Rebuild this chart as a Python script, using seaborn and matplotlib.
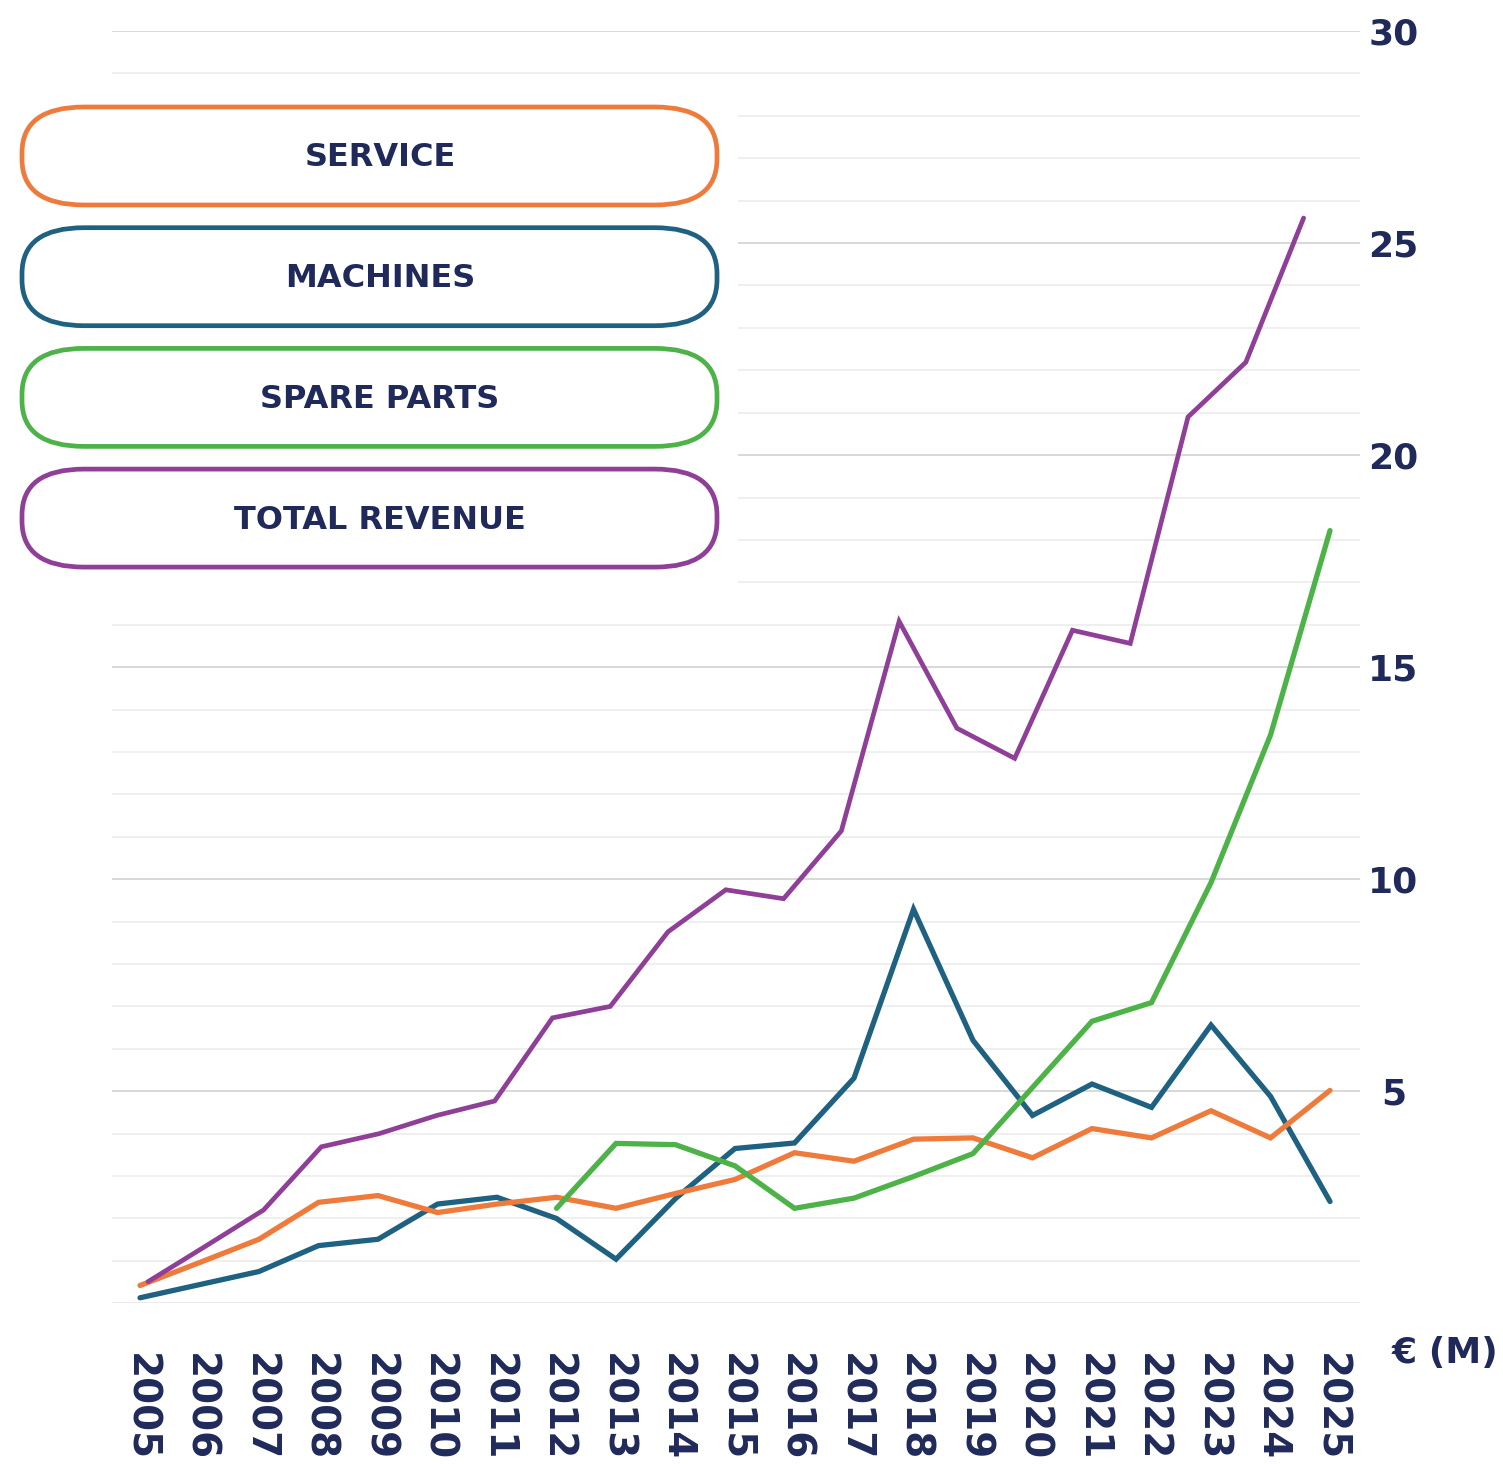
import matplotlib.pyplot as plt
import pandas as pd
import seaborn as sns
from matplotlib.patches import FancyBboxPatch, Rectangle

# values (EUR millions)
years = list(range(2005, 2026))
service = [0.42, 0.96, 1.51, 2.38, 2.54, 2.14, 2.34, 2.50, 2.24, 2.59, 2.92,
           3.55, 3.35, 3.87, 3.90, 3.43, 4.12, 3.90, 4.54, 3.90, 5.02]
machines = [0.13, 0.44, 0.75, 1.36, 1.51, 2.34, 2.50, 2.00, 1.04, 2.47, 3.65,
            3.78, 5.31, 9.29, 6.20, 4.43, 5.17, 4.62, 6.56, 4.88, 2.40]
spare_years = list(range(2012, 2026))
spare_parts = [2.24, 3.77, 3.74, 3.24, 2.24, 2.48, 2.99, 3.53, 5.09, 6.65,
               7.09, 9.92, 13.40, 18.22]
total_revenue = [0.51, 1.35, 2.20, 3.69, 4.00, 4.43, 4.77, 6.73, 7.00, 8.76, 9.75,
                 9.54, 11.14, 16.08, 13.56, 12.85, 15.87, 15.56, 20.90, 22.19, 25.59]

legend_labels = ['SERVICE', 'MACHINES', 'SPARE PARTS', 'TOTAL REVENUE']
y_ticks = [5, 10, 15, 20, 25, 30]

ORANGE = '#EE7B3B'
BLUE = '#1E6180'
GREEN = '#4DB348'
PURPLE = '#8F3F97'
NAVY = '#1F2A5A'
legend_colors = [ORANGE, BLUE, GREEN, PURPLE]

sns.set_theme(style='white')
plt.rcParams['font.family'] = ['DejaVu Sans']

W, H = 1503, 1464
fig = plt.figure(figsize=(W / 100, H / 100), dpi=100)
ax = fig.add_axes([112 / W, 1 - 1303.3 / H, (1360 - 112) / W, (1303.3 - 31) / H])

df_main = pd.DataFrame({'year': years, 'service': service, 'machines': machines})
df_spare = pd.DataFrame({'year': spare_years, 'spare': spare_parts})
df_total = pd.DataFrame({'year': years, 'total': total_revenue})

lw = 3.8
sns.lineplot(data=df_main, x='year', y='machines', ax=ax, color=BLUE,
             linewidth=lw, solid_capstyle='round', solid_joinstyle='miter')
sns.lineplot(data=df_main, x='year', y='service', ax=ax, color=ORANGE,
             linewidth=lw, solid_capstyle='round', solid_joinstyle='miter')
sns.lineplot(data=df_spare, x='year', y='spare', ax=ax, color=GREEN,
             linewidth=lw, solid_capstyle='round', solid_joinstyle='miter')

ax.set_xlim(2004.529, 2025.504)
ax.set_ylim(0, 30)
ax.set_xlabel('')
ax.set_ylabel('')

# total revenue line sits on a slightly compressed x scale in the original
ax2 = ax.twiny()
sns.lineplot(data=df_total, x='year', y='total', ax=ax2, color=PURPLE,
             linewidth=3.4, solid_capstyle='round', solid_joinstyle='miter')
ax2.set_xlim(2004.377, 2025.976)
ax2.set_xticks([])
ax2.set_xlabel('')
ax2.set_ylabel('')
for s in ax2.spines.values():
    s.set_visible(False)

# grid
ax.set_yticks(y_ticks)
ax.set_yticks(range(0, 31), minor=True)
ax.set_axisbelow(True)
ax.grid(which='minor', axis='y', color='#eeeeee', linewidth=1.3)
ax.grid(which='major', axis='y', color='#d6d6d6', linewidth=1.3)
ax.axhline(0, color='#d6d6d6', linewidth=1.3, zorder=0.5)
ax.grid(False, axis='x')
for s in ax.spines.values():
    s.set_visible(False)

# y labels on the right
ax.yaxis.tick_right()
ax.set_yticklabels([str(t) for t in y_ticks], fontsize=26, fontweight='bold',
                   color=NAVY, ha='center')
ax.tick_params(axis='y', which='both', length=0, pad=24)

# year labels
ax.set_xticks(years)
ax.set_xticklabels([str(y) for y in years], rotation=270, fontsize=28,
                   fontweight='bold', color=NAVY)
for lbl in ax.get_xticklabels():
    lbl.set_verticalalignment('center')
    lbl.set_horizontalalignment('center')
ax.tick_params(axis='x', length=0, pad=75)

fig.text(1445 / W, 1 - 1353 / H, '€ (M)', ha='center', va='center',
         fontsize=26, fontweight='bold', color=NAVY)

# legend pills drawn on a pixel overlay
ov = fig.add_axes([0, 0, 1, 1])
ov.set_xlim(0, W)
ov.set_ylim(H, 0)
ov.axis('off')
ov.patch.set_visible(False)
ov.add_patch(Rectangle((0, 92), 738, 508, facecolor='white', edgecolor='none', zorder=1))
for i, (lab, col) in enumerate(zip(legend_labels, legend_colors)):
    cy = 156 + 120.7 * i
    ov.add_patch(FancyBboxPatch((22, cy - 49), 695, 98,
                                boxstyle='round,pad=0,rounding_size=62',
                                mutation_aspect=0.74,
                                facecolor='white', edgecolor=col, linewidth=3.4,
                                zorder=2))
    ov.text(380, cy + 2, lab, ha='center', va='center', fontsize=23,
            fontweight='bold', color=NAVY, zorder=3)

fig.savefig('out.png', dpi=100)
